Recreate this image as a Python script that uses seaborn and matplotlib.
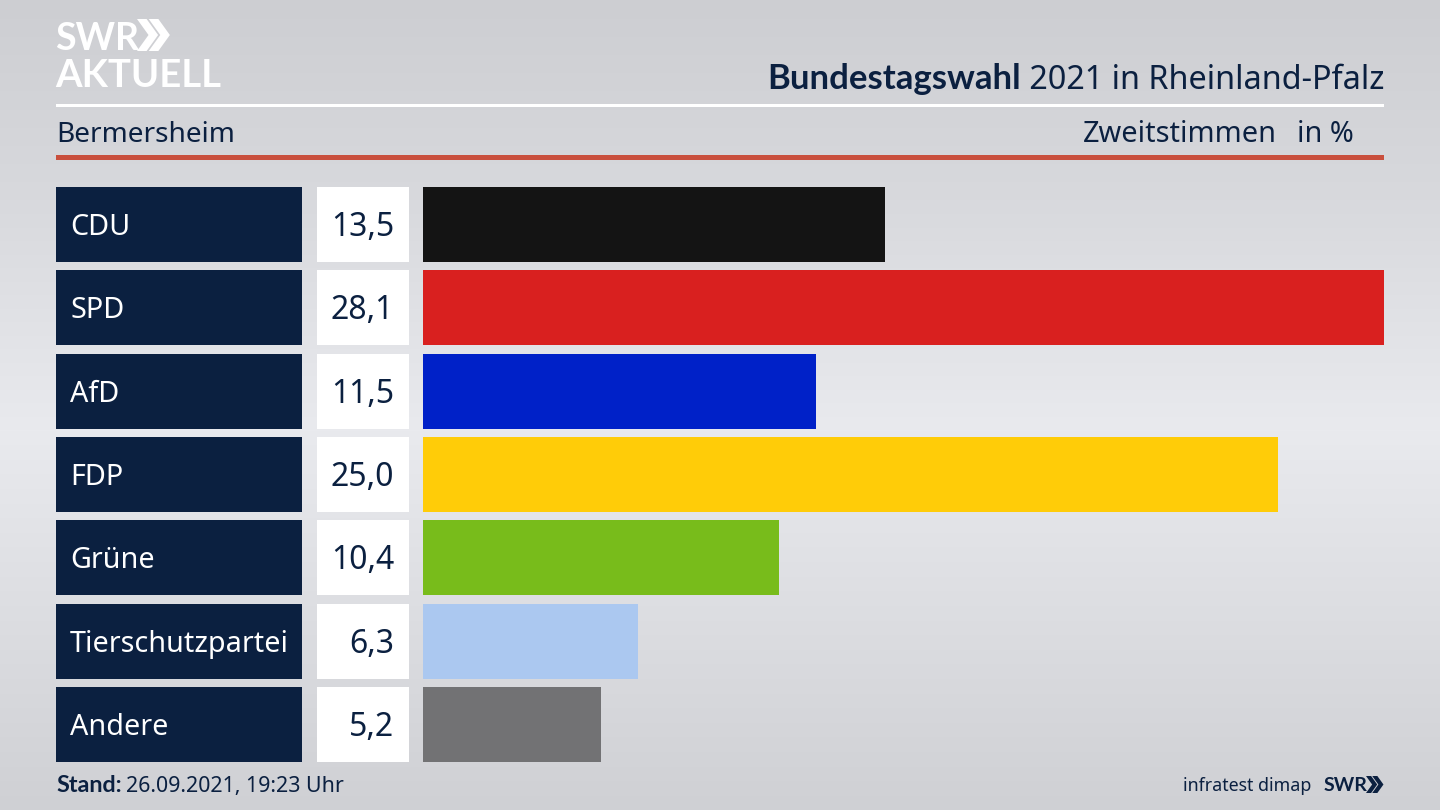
import numpy as np
import pandas as pd
import matplotlib
matplotlib.use('Agg')
import matplotlib.pyplot as plt
import matplotlib.transforms as mtransforms
from matplotlib.patches import Rectangle, Polygon
import seaborn as sns

# Chart data
parties = ['CDU', 'SPD', 'AfD', 'FDP', 'Grüne', 'Tierschutzpartei', 'Andere']
values = [13.5, 28.1, 11.5, 25.0, 10.4, 6.3, 5.2]
bar_colors = ['#141414', '#d9201f', '#0021c8', '#ffcc08', '#78bc1b', '#abc8f0', '#727274']

W, H = 1440, 810
NAVY = '#0b2040'
BOLD = ['Lato', 'DejaVu Sans']

sns.set_theme(style='white')
plt.rcParams['font.family'] = ['Noto Sans', 'DejaVu Sans']

df = pd.DataFrame({'party': parties, 'value': values})

fig = plt.figure(figsize=(14.4, 8.1), dpi=100)

# Background gradient and pixel coordinate layer
bg = fig.add_axes([0, 0, 1, 1], zorder=0)
bg.set_xlim(0, W)
bg.set_ylim(H, 0)
bg.axis('off')
stops_y = [0, 200, 430, 620, 810]
stops_c = [0xcd, 0xd8, 0xe9, 0xdc, 0xcf]
grad = np.interp(np.arange(H), stops_y, stops_c)
img = np.stack([grad, grad + 1, grad + 5], axis=1)[:, None, :] / 255
bg.imshow(np.clip(img, 0, 1), extent=[0, W, H, 0], aspect='auto', zorder=0)

# Bars
left, right, top, bottom = 423, 1384, 187, 762
ax = fig.add_axes([left / W, 1 - bottom / H, (right - left) / W, (bottom - top) / H], zorder=2)
ax.patch.set_alpha(0)
sns.barplot(data=df, y='party', x='value', hue='party', palette=bar_colors,
            legend=False, width=0.9, saturation=1, linewidth=0, ax=ax)
ax.set_xlim(0, max(values))
ax.set_ylim(len(parties) - 0.55, -0.45)
ax.axis('off')

# Label and value boxes, lined up with the categories
trans = mtransforms.blended_transform_factory(bg.transData, ax.transData)
for i, (party, val) in enumerate(zip(parties, values)):
    bg.add_patch(Rectangle((56, i - 0.45), 246, 0.9, transform=trans, color=NAVY, lw=0, zorder=2))
    bg.add_patch(Rectangle((317, i - 0.45), 92, 0.9, transform=trans, color='white', lw=0, zorder=2))
    bg.text(70, i + 0.035, party, transform=trans, color='white', fontsize=20.7, va='center', ha='left', zorder=3)
    bg.text(394, i + 0.035, f'{val:.1f}'.replace('.', ','), transform=trans, color=NAVY, fontsize=23,
            va='center', ha='right', zorder=3)

# Header rules
bg.add_patch(Rectangle((56, 104), 1328, 3, color='white', lw=0, zorder=2))
bg.add_patch(Rectangle((56, 155), 1328, 5, color='#c94f3d', lw=0, zorder=2))

# Title: regular part right aligned, bold part in front of it
t2 = bg.text(1384, 89, ' 2021 in Rheinland-Pfalz', color=NAVY, fontsize=23.3, ha='right', va='baseline', zorder=3)
fig.canvas.draw()
x0 = bg.transData.inverted().transform(t2.get_window_extent().get_points())[0, 0]
bg.text(x0, 89, 'Bundestagswahl', color=NAVY, fontsize=25, family=BOLD, fontweight='bold',
        ha='right', va='baseline', zorder=3)

bg.text(56, 142, 'Bermersheim', color=NAVY, fontsize=20.2, ha='left', va='baseline', zorder=3)
bg.text(1277, 142, 'Zweitstimmen', color=NAVY, fontsize=20.8, ha='right', va='baseline', zorder=3)
bg.text(1354, 142, 'in %', color=NAVY, fontsize=20.8, ha='right', va='baseline', zorder=3)

# Logo top left
def chevrons(x, y, h, color):
    w = h * 0.36
    t = h * 0.30
    for dx in (0, w * 1.02):
        bg.add_patch(Polygon([(x + dx, y), (x + dx + t, y), (x + dx + t + w, y + h / 2),
                              (x + dx + t, y + h), (x + dx, y + h), (x + dx + w, y + h / 2)],
                             closed=True, color=color, lw=0, zorder=3))

bg.text(55, 50, 'SWR', color='white', fontsize=27, family=BOLD, fontweight='bold', ha='left', va='baseline', zorder=3)
chevrons(137, 19, 32, 'white')
bg.text(55, 87, 'AKTUELL', color='white', fontsize=27.5, family=BOLD, fontweight='bold', ha='left', va='baseline', zorder=3)

# Footer
bg.text(56, 792, 'Stand:', color=NAVY, fontsize=16.8, family=BOLD, fontweight='bold', ha='left', va='baseline', zorder=3)
bg.text(126, 792, '26.09.2021, 19:23 Uhr', color=NAVY, fontsize=15.4, ha='left', va='baseline', zorder=3)
bg.text(1311, 791, 'infratest dimap', color=NAVY, fontsize=12.8, ha='right', va='baseline', zorder=3)
bg.text(1324, 791, 'SWR', color=NAVY, fontsize=14, family=BOLD, fontweight='bold', ha='left', va='baseline', zorder=3)
chevrons(1366, 776, 17, NAVY)

fig.savefig('out.png', dpi=100)
